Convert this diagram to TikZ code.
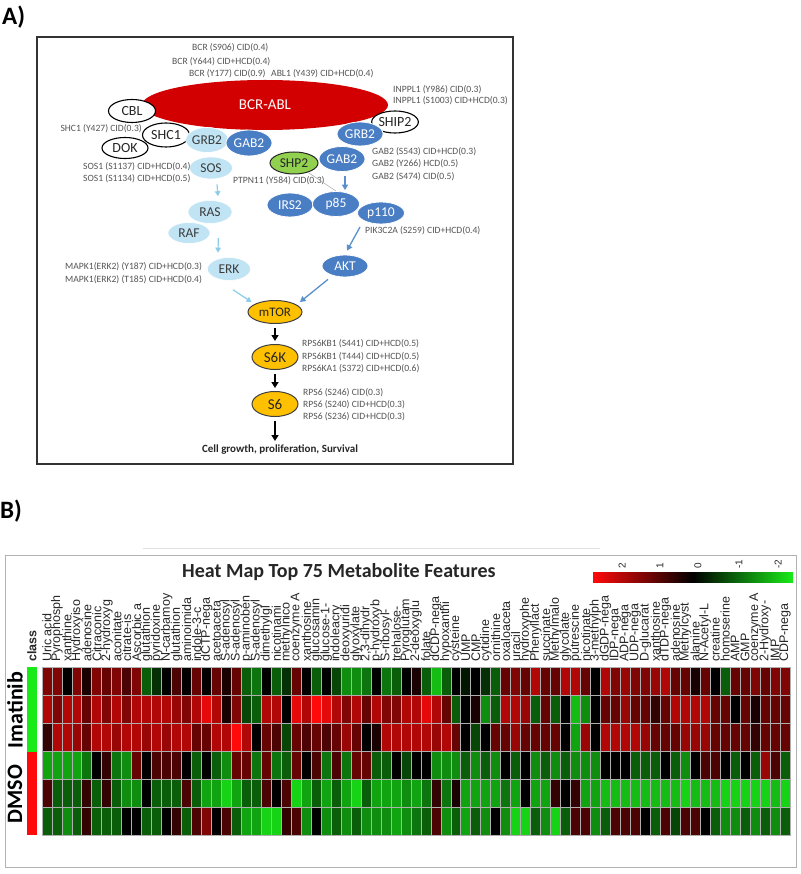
\documentclass[tikz,border=0pt]{standalone}
\usepackage{fontspec}
\setmainfont{Carlito}
\newfontfamily\arialf{Liberation Sans}
\usetikzlibrary{shapes.geometric,arrows.meta,calc}
\newcommand\fsz[1]{\fontsize{#1}{#1}\selectfont}
\definecolor{bcrred}{RGB}{210,0,0}
\definecolor{lblue}{RGB}{192,228,244}
\definecolor{dblue}{RGB}{74,126,196}
\definecolor{sgreen}{RGB}{146,208,80}
\definecolor{gold}{RGB}{255,192,0}
\definecolor{anng}{RGB}{85,85,85}
\definecolor{lbarrow}{RGB}{140,205,235}
\definecolor{barrow}{RGB}{90,145,205}
\definecolor{hred}{RGB}{255,10,10}
\definecolor{hgreen}{RGB}{25,235,25}
\definecolor{gridg}{RGB}{175,175,175}
\definecolor{ltext}{RGB}{60,60,60}
\newcommand\hrow[2]{%
  \foreach \v [count=\cl] in {#2} {%
    \ifnum\v>0
      \colorlet{cellc}{hred!\the\numexpr\v*10\relax!black}%
    \else
      \colorlet{cellc}{hgreen!\the\numexpr 0-\v*10\relax!black}%
    \fi
    \filldraw[fill=cellc, draw=gridg, line width=0.8pt] ({42+9.973*(\cl-1)},{667+28*(#1-1)}) rectangle ++(9.973,28);
  }%
}
\begin{document}
\begin{tikzpicture}[x=1pt,y=-1pt,
  ann/.style={font=\fsz{9.6}, text=anng, inner sep=0pt},
  wnode/.style={ellipse, draw=black, line width=1.1pt, fill=white, inner sep=0pt, font=\fsz{14}, text=black!85},
  lbnode/.style={ellipse, fill=lblue, draw=white, line width=0.6pt, inner sep=0pt, font=\fsz{13.5}, text=ltext},
  dbnode/.style={ellipse, fill=dblue, draw=white, line width=0.8pt, inner sep=0pt, font=\fsz{13.5}, text=white},
  ynode/.style={ellipse, fill=gold, draw=black!75, line width=1pt, inner sep=0pt, font=\fsz{14}, text=black!85},
  larr/.style={draw=lbarrow, line width=1.2pt, -{Triangle[length=5pt,width=5.5pt]}},
  barr/.style={draw=barrow, line width=1.3pt, -{Triangle[length=5.5pt,width=6pt]}},
  karr/.style={draw=black, line width=1.5pt, -{Triangle[length=6pt,width=7pt]}},
  collab/.style={font=\arialf\fsz{12.5}, text=black!85, inner sep=0pt, rotate=90, anchor=west},
  barlab/.style={font=\arialf\fsz{10}, text=black!85, inner sep=0pt, rotate=90, anchor=west}
]
\useasboundingbox (0,0) rectangle (800,874);
\fill[white] (0,0) rectangle (800,874);

% ---------------- Panel A ----------------
\node[font=\bfseries\fsz{25}, anchor=west, inner sep=0pt] (labA) at (2,17) {A)};
\draw[black!80, line width=2.2pt] (37,37) rectangle (513,464);

\node[ellipse, fill=bcrred, inner sep=0pt, minimum width=246pt, minimum height=50pt, font=\fsz{15}, text=white] (BCRABL) at (265,105) {BCR-ABL};
\node[wnode, minimum width=47pt, minimum height=23pt] (CBL) at (132,111) {CBL};
\node[wnode, minimum width=46pt, minimum height=22pt] (SHIP2) at (395,122) {SHIP2};
\node[dbnode, minimum width=46pt, minimum height=24pt] (GRB2r) at (360,134) {GRB2};
\node[wnode, minimum width=47pt, minimum height=24pt] (SHC1) at (166,135) {SHC1};
\node[wnode, minimum width=46pt, minimum height=21pt] (DOK) at (125,148) {DOK};
\node[lbnode, minimum width=42pt, minimum height=25pt] (GRB2l) at (207,140) {GRB2};
\node[dbnode, minimum width=46pt, minimum height=26pt] (GAB2l) at (249,143) {GAB2};
\node[dbnode, minimum width=46pt, minimum height=25pt] (GAB2r) at (342,159) {GAB2};
\node[ellipse, fill=sgreen, draw=black!85, line width=1pt, inner sep=0pt, minimum width=48pt, minimum height=22pt, font=\fsz{13.5}, text=black!85] (SHP2) at (294,163) {SHP2};
\node[lbnode, minimum width=43pt, minimum height=22pt] (SOS) at (211,168) {SOS};
\node[lbnode, minimum width=44pt, minimum height=23pt] (RAS) at (210,212) {RAS};
\node[lbnode, minimum width=42pt, minimum height=21pt] (RAF) at (189,233) {RAF};
\node[lbnode, minimum width=43pt, minimum height=23pt] (ERK) at (229,269) {ERK};
\node[dbnode, minimum width=46pt, minimum height=24pt] (IRS2) at (290,205) {IRS2};
\node[dbnode, minimum width=47pt, minimum height=25pt] (p85) at (336,204) {p85};
\node[dbnode, minimum width=47pt, minimum height=22pt] (p110) at (381,213) {p110};
\node[dbnode, minimum width=46pt, minimum height=22pt] (AKT) at (345,266) {AKT};
\node[ynode, minimum width=54pt, minimum height=23pt, font=\fsz{13}] (mTOR) at (275,312) {mTOR};
\node[ynode, minimum width=46pt, minimum height=25pt, font=\fsz{15}] (S6K) at (275,357) {S6K};
\node[ynode, minimum width=46pt, minimum height=25pt, font=\fsz{15}] (S6) at (275,404) {S6};
\node[font=\bfseries\fsz{11}, text=black!85, inner sep=0pt] (growth) at (280,450) {Cell growth, proliferation, Survival};

% annotations
\node[ann, anchor=west] (a1) at (192,48) {BCR (S906) CID(0.4)};
\node[ann, anchor=west] (a2) at (172,62) {BCR (Y644) CID+HCD(0.4)};
\node[ann, anchor=west] (a3) at (189,74) {BCR (Y177) CID(0.9)};
\node[ann, anchor=west] (a4) at (271,74) {ABL1 (Y439) CID+HCD(0.4)};
\node[ann, anchor=west] (a5) at (393,90) {INPPL1 (Y986) CID(0.3)};
\node[ann, anchor=west] (a6) at (393,101) {INPPL1 (S1003) CID+HCD(0.3)};
\node[ann, anchor=east] (a7) at (142,129) {SHC1 (Y427) CID(0.3)};
\node[ann, anchor=west] (a8) at (372,152) {GAB2 (S543) CID+HCD(0.3)};
\node[ann, anchor=west] (a9) at (372,164) {GAB2 (Y266) HCD(0.5)};
\node[ann, anchor=west] (a10) at (372,177) {GAB2 (S474) CID(0.5)};
\node[ann, anchor=west] (a11) at (83,167) {SOS1 (S1137) CID+HCD(0.4)};
\node[ann, anchor=west] (a12) at (83,179) {SOS1 (S1134) CID+HCD(0.5)};
\node[ann, anchor=west] (a13) at (233,181) {PTPN11 (Y584) CID(0.3)};
\node[ann, anchor=west] (a14) at (365,231) {PIK3C2A (S259) CID+HCD(0.4)};
\node[ann, anchor=west] (a15) at (65,267) {MAPK1(ERK2) (Y187) CID+HCD(0.3)};
\node[ann, anchor=west] (a16) at (65,280) {MAPK1(ERK2) (T185) CID+HCD(0.4)};
\node[ann, anchor=west] (a17) at (302,344) {RPS6KB1 (S441) CID+HCD(0.5)};
\node[ann, anchor=west] (a18) at (302,357) {RPS6KB1 (T444) CID+HCD(0.5)};
\node[ann, anchor=west] (a19) at (302,369) {RPS6KA1 (S372) CID+HCD(0.6)};
\node[ann, anchor=west] (a20) at (303,393) {RPS6 (S246) CID(0.3)};
\node[ann, anchor=west] (a21) at (303,405) {RPS6 (S240) CID+HCD(0.3)};
\node[ann, anchor=west] (a22) at (303,417) {RPS6 (S236) CID+HCD(0.3)};

% connectors
\draw[gray!70, line width=0.5pt] (SHP2) -- (p85.north);
\draw[larr] ($(SOS.south)+(6,5)$) -- ($(RAS.north)+(8,-4)$);
\draw[larr] ($(RAF.east)+(8,5)$) -- ($(ERK.north)+(-11,-4.5)$);
\draw[larr] ($(ERK.south)+(4,9)$) -- ($(mTOR.west)+(4,-10)$);
\draw[barr] ($(GAB2r.south)+(3,4)$) -- ($(p85.north)+(9,-1)$);
\draw[barr] ($(p110.center)+(-21,14)$) -- ($(AKT.north)+(2,-4)$);
\draw[barr] ($(AKT.south)+(-17,2)$) -- ($(mTOR.north)+(25,2)$);
\draw[karr] ($(mTOR.south)+(0,4)$) -- ($(S6K.north)+(0,-3)$);
\draw[karr] ($(S6K.south)+(0,4)$) -- ($(S6.north)+(0,-3)$);
\draw[karr] ($(S6.south)+(0,4)$) -- ($(growth.north)+(-5,-4)$);

% ---------------- Panel B ----------------
\node[font=\bfseries\fsz{25}, anchor=west, inner sep=0pt] (labB) at (0,511) {B)};
\draw[gray!25, line width=0.6pt] (143,548) -- (600,548);
\draw[gray!60, line width=1pt] (5,555) rectangle (796,867);
\node[font=\bfseries\fsz{20}, anchor=west, inner sep=0pt, text=black!85] (title) at (182,572) {Heat Map Top 75 Metabolite Features};

% colour bar
\shade[left color=hred, right color=hgreen, middle color=black] (593,572) rectangle (793,582);
\node[barlab] (b1) at (622,569) {2};
\node[barlab] (b2) at (660,569) {1};
\node[barlab] (b3) at (698,569) {0};
\node[barlab] (b4) at (739,569) {-1};
\node[barlab] (b5) at (778,569) {-2};

% class bar
\fill[hgreen] (27,667) rectangle (37,752);
\fill[hred] (27,752) rectangle (37,835);
\node[font=\arialf\bfseries\fsz{12.5}, text=black!85, inner sep=0pt, rotate=90, anchor=west] (classlab) at (32,662) {class};
\node[font=\bfseries\fsz{22}, inner sep=0pt, rotate=90] (imat) at (15,710) {Imatinib};
\node[font=\bfseries\fsz{22}, inner sep=0pt, rotate=90] (dmso) at (15,794) {DMSO};

% heat map cells
\hrow{1}{5,5,0,5,1,5,4,5,3,5,-4,-2,0,3,0,4,0,4,1,4,-4,-5,0,-4,-2,4,0,-4,0,-3,-6,-6,-5,0,-5,-4,0,1,-4,-8,-4,0,-1,0,-2,-4,4,5,4,7,4,4,7,7,4,0,7,5,6,5,5,6,7,4,4,1,4,0,-4,4,4,5,4,5,5}
\hrow{2}{7,5,7,7,4,7,5,7,5,7,7,7,7,6,5,7,9,7,1,5,-3,-4,7,7,0,9,7,10,9,7,5,7,4,7,5,5,7,7,9,7,4,-4,0,1,-6,-4,7,7,6,-4,4,-4,0,-8,-6,0,4,4,6,4,4,2,4,7,7,7,7,4,4,0,4,1,4,4,4}
\hrow{3}{2,7,7,6,4,7,7,6,7,7,6,7,6,7,7,4,4,7,7,10,7,0,4,3,-3,4,3,4,3,4,6,4,0,1,7,7,7,7,7,6,7,4,0,-3,0,4,4,6,4,4,4,4,0,-7,6,0,7,7,7,7,6,4,4,4,6,6,6,4,4,4,4,2,4,4,4}
\hrow{4}{-7,-7,-7,-7,-5,0,2,-5,-6,4,0,3,3,3,0,-4,0,-4,-6,4,4,-5,4,-5,-4,4,0,3,-5,3,-5,4,4,-4,-4,0,-3,0,0,-6,-6,-6,-4,-6,-4,-6,0,-4,0,-6,-4,-6,-4,-6,-6,-6,0,0,0,-4,-4,-4,0,-4,-6,0,3,3,0,-4,0,-4,6,3,-4}
\hrow{5}{3,-4,-4,-4,2,-4,2,-4,-6,-6,0,-4,-4,-4,3,-4,-7,-7,-9,-7,-4,-4,3,0,3,-9,-7,-4,-7,-4,-7,-9,-4,-7,-7,-7,-6,-7,-5,2,-5,1,-7,-7,-7,-7,-5,-7,0,-7,-7,2,0,2,-7,-7,-8,-8,-8,-8,-8,-8,-8,-8,-9,-8,-8,-8,-9,-9,-9,-9,-9,-8,-9}
\hrow{6}{-4,-4,-6,-4,2,-4,-4,-4,0,0,-4,-4,0,2,-4,3,5,0,3,-4,-7,-7,-9,-9,2,3,-6,0,-6,-4,-6,-4,-6,-6,-6,-7,-6,-5,-4,3,-6,-4,-7,-4,-6,0,-6,-9,-9,-4,-6,-9,-4,3,3,-6,-4,3,3,3,0,-4,3,-3,3,3,0,-4,-6,-6,-4,-6,-4,-6,-4}

% column labels
\foreach \lab [count=\cl] in {Uric acid,Pyrophosph,xanthine,Hydroxyiso,adenosine,Citraconic,2-hydroxyg,aconitate,citrate-is,Ascorbic a,glutathion,pyridoxine,N-carbamoy,glutathion,aminoimida,indole-3-c,dCTP-nega,acetoaceta,S-adenosyl,S-adenosyl,p-aminoben,S-adenosyl,dimethylgl,nicotinami,methylnico,coenzyme A,xanthosine,glucosamin,glucose-1-,indoleacry,deoxyuridi,glyoxylate,{2,3-dihydr},p-hydroxyb,S-ribosyl-,trehalose-,Pyroglutam,2-deoxyglu,folate,dCDP-nega,hypoxanthi,cysteine,UMP,CMP,cytidine,ornithine,oxaloaceta,uracil,hydroxyphe,Phenyllact,succinate,Methylmalo,glycolate,putrescine,nicotinate,3-methylph,dGDP-nega,IDP-nega,ADP-nega,UDP-nega,D-glucarat,xanthosine,dTDP-nega,adenosine,Methylcyst,alanine,N-Acetyl-L,creatine,homoserine,AMP,GMP,coenzyme A,2-Hydroxy-,IMP,CDP-nega} {
  \node[collab] (col\cl) at ({42+9.973*(\cl-0.5)},662) {\lab};
}
\end{tikzpicture}
\end{document}
